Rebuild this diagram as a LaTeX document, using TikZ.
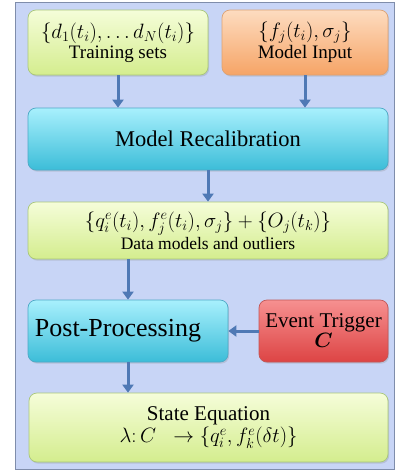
\documentclass[tikz,border=0pt]{standalone}
\usepackage{amsmath}
\usepackage{fontspec}
\setmainfont{Liberation Serif}
\newfontfamily\tnr{Liberation Serif}
\usetikzlibrary{shadows,arrows.meta}
\definecolor{framefill}{HTML}{C8D5F6}
\definecolor{framedraw}{HTML}{7F8DAB}
\definecolor{greentop}{HTML}{F5FDD9}
\definecolor{greenbot}{HTML}{D4ED8E}
\definecolor{greenline}{HTML}{A9C77A}
\definecolor{orangetop}{HTML}{FDDCC0}
\definecolor{orangebot}{HTML}{F6A466}
\definecolor{orangeline}{HTML}{DDA273}
\definecolor{cyantop}{HTML}{A8F0FD}
\definecolor{cyanbot}{HTML}{3CBDD8}
\definecolor{cyanline}{HTML}{4EA9C6}
\definecolor{redtop}{HTML}{F69090}
\definecolor{redbot}{HTML}{DD4444}
\definecolor{redline}{HTML}{C25656}
\definecolor{arrowblue}{HTML}{4F79B5}
\newcommand{\mfs}[1]{\fontsize{#1}{#1}\selectfont}
\tikzset{
  box/.style={rounded corners=8pt, draw=#1line, line width=0.7pt,
    top color=#1top, bottom color=#1bot, inner sep=0pt, align=center,
    drop shadow={shadow xshift=1.2pt, shadow yshift=-1.6pt, opacity=0.25}},
  arr/.style={draw=arrowblue, line width=3pt, -{Triangle[length=8pt,width=11pt]}},
  fs/.style={font=\tnr\fontsize{#1}{#1}\selectfont}
}
\begin{document}
\begin{tikzpicture}[x=1pt,y=-1pt]
\useasboundingbox (0,0) rectangle (399,472);
\path[fill=framefill, draw=framedraw, line width=1pt] (15.5,2.5) rectangle (394,469);
\node[box=green, minimum width=180pt, minimum height=65pt, fs=19] (train) at (118,42.5)
  {{\mfs{20.5}$\{d_1(t_i),\ldots d_N(t_i)\}$}\\[1pt] Training sets};
\node[box=orange, minimum width=166pt, minimum height=65pt, fs=19] (input) at (305,42.5)
  {{\mfs{20.5}$\{f_j(t_i),\sigma_j\}$}\\[1pt] Model Input};
\node[box=cyan, minimum width=360pt, minimum height=62pt, fs=22.5] (recal) at (208,139)
  {Model Recalibration};
\node[box=green, minimum width=360pt, minimum height=57pt, fs=17.5] (data) at (208,230.5)
  {{\mfs{19.5}$\{q_i^e(t_i), f_j^e(t_i), \sigma_j\} + \{O_j(t_k)\}$}\\[1pt] Data models and outliers};
\node[box=cyan, minimum width=200pt, minimum height=62pt, fs=26] (post) at (128,331)
  {Post-Processing\hspace*{20pt}};
\node[box=red, minimum width=129pt, minimum height=62pt, fs=21] (event) at (323.5,331)
  {Event Trigger\\[-1pt] $\boldsymbol{C}$};
\node[box=green, minimum width=359pt, minimum height=69pt, fs=21] (state) at (208.5,427.5)
  {State Equation\\[1pt] {\mfs{19.5}$\lambda{:}\,C\;\;\rightarrow \{q_i^e, f_k^e(\delta t)\}$}};
\draw[arr] (train.south) -- (train.south |- recal.north);
\draw[arr] (input.south) -- (input.south |- recal.north);
\draw[arr] (recal.south) -- (data.north);
\draw[arr] (data.south -| post.north) -- (post.north);
\draw[arr] (event.west) -- (post.east);
\draw[arr] (post.south) -- (post.south |- state.north);
\end{tikzpicture}
\end{document}
